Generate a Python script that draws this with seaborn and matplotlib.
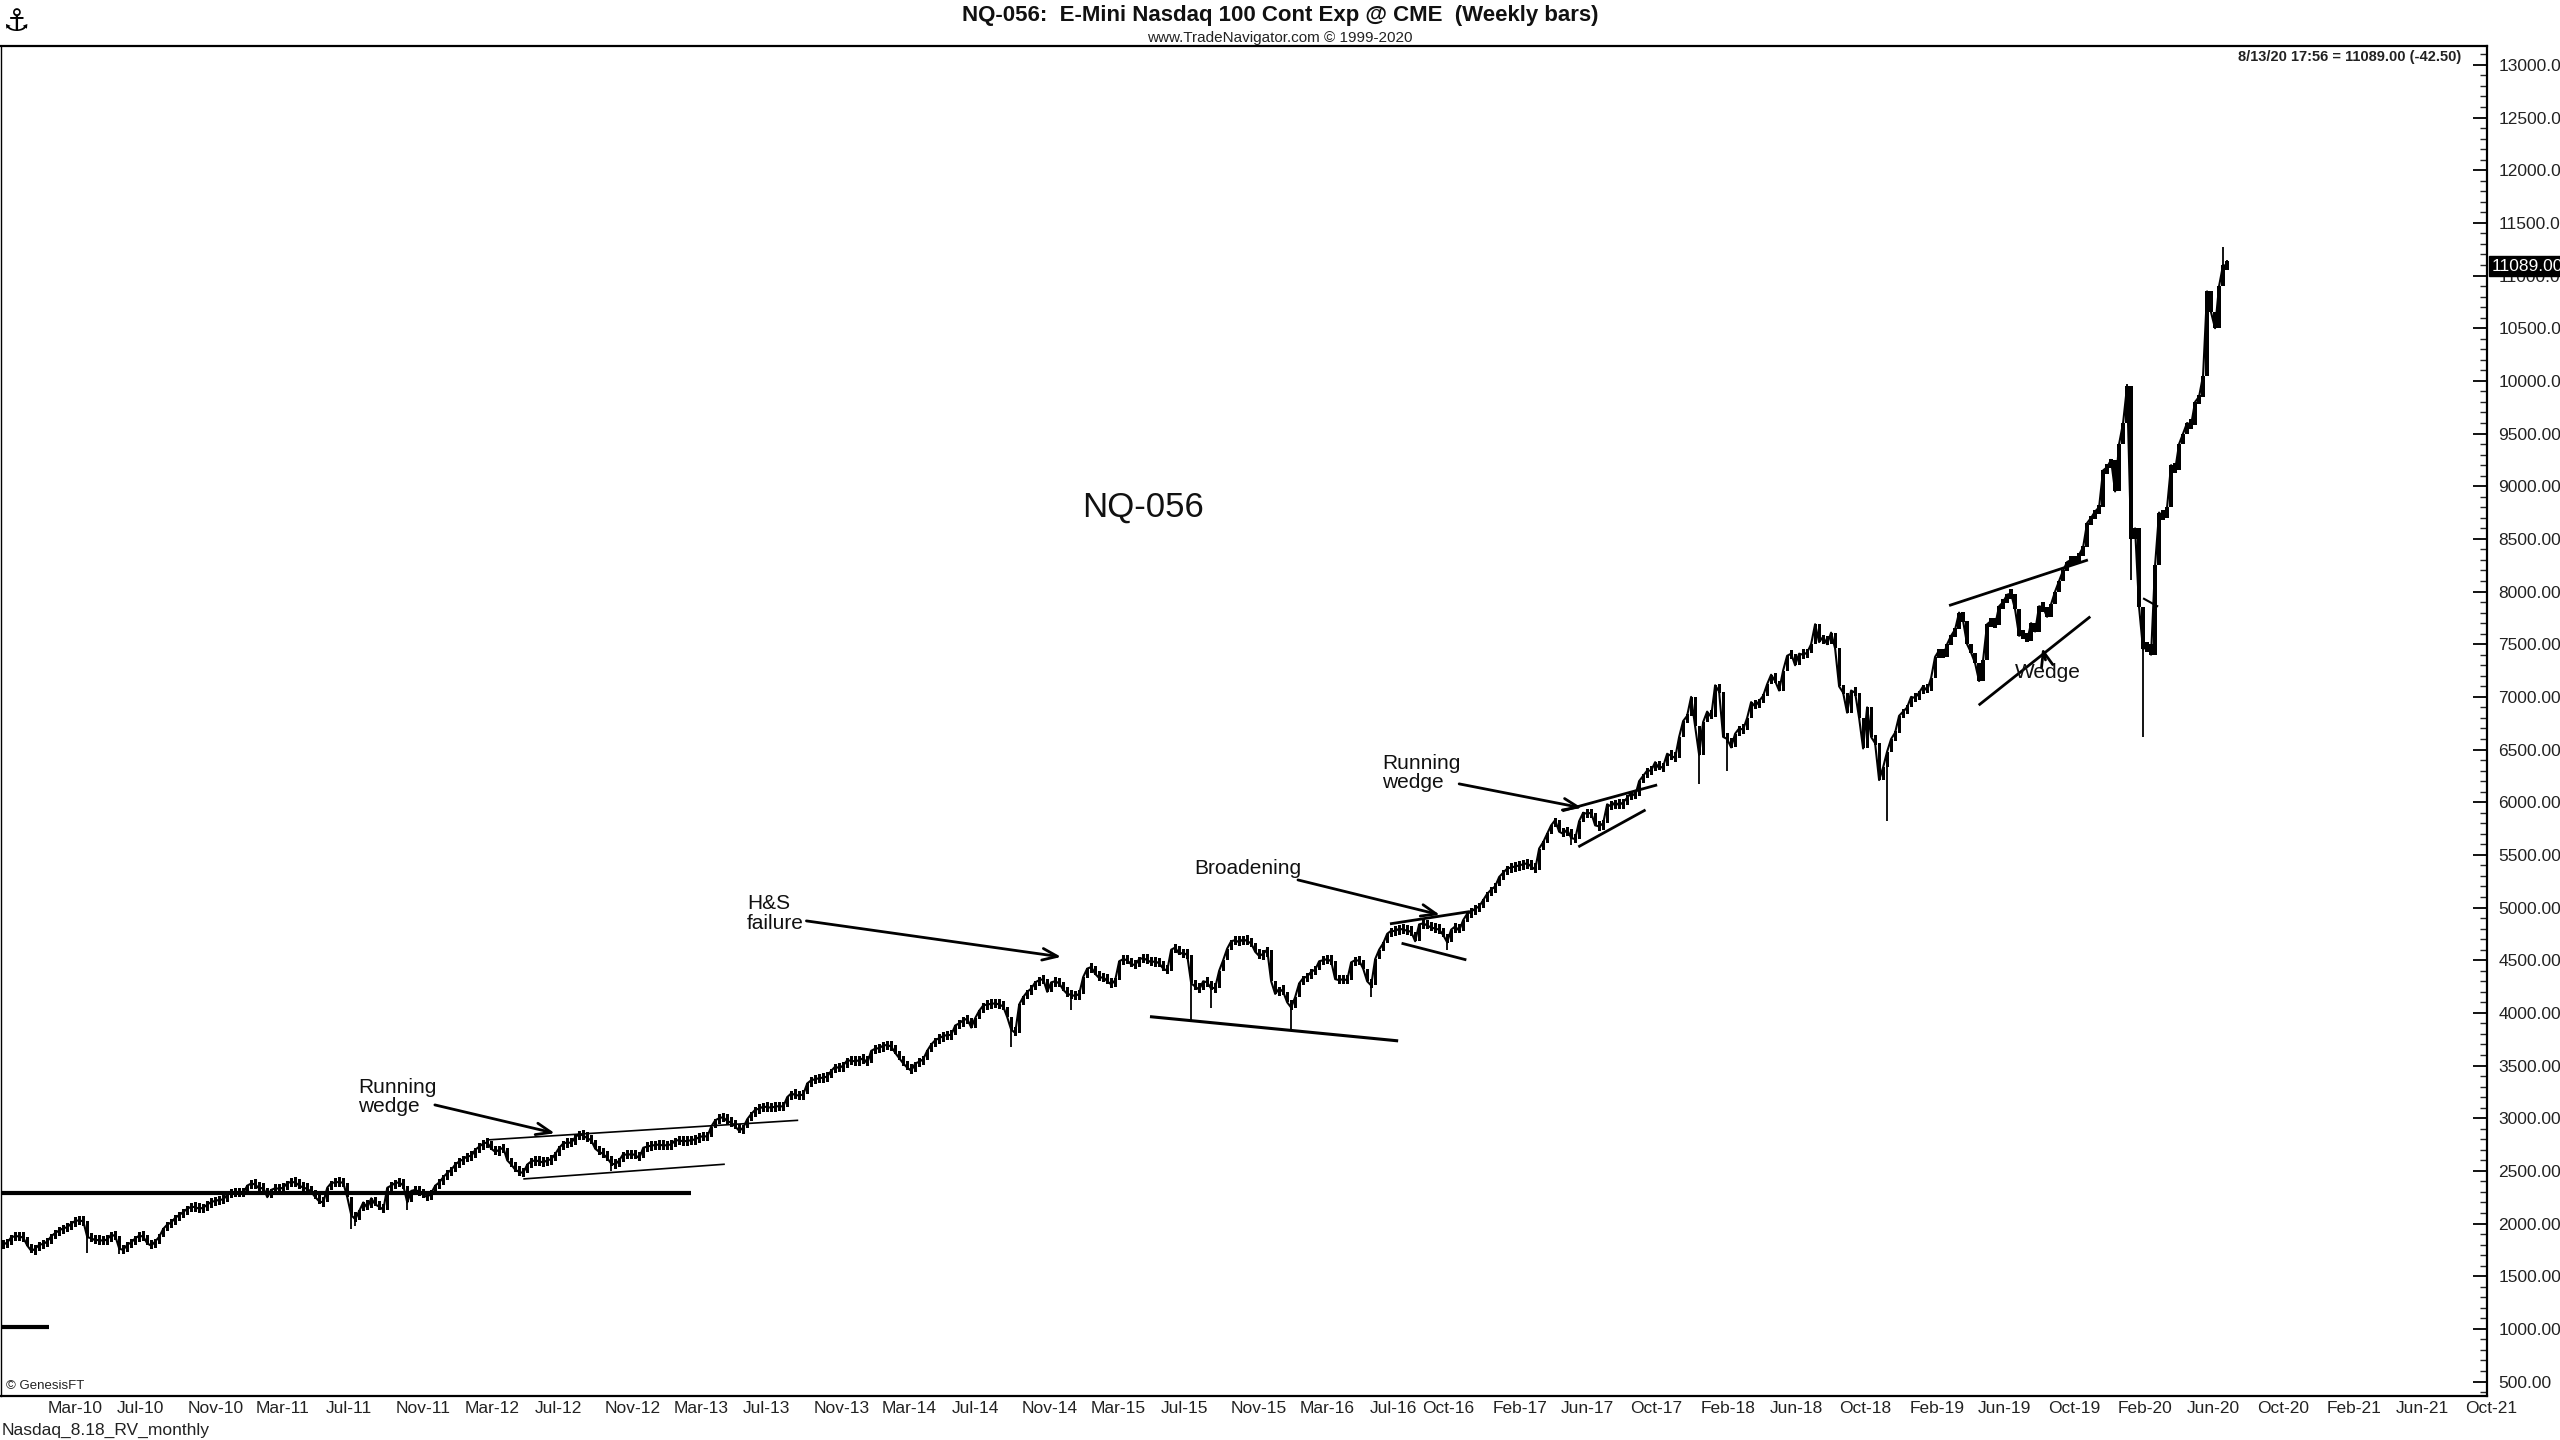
"""
NQ-056 weekly bars, 2010-2020, with chart pattern notes.
"""

import numpy as np
import pandas as pd
import matplotlib
matplotlib.use('Agg')  # no display
import matplotlib.pyplot as plt
import matplotlib.dates as mdates
from matplotlib.ticker import MultipleLocator, FuncFormatter
import seaborn as sns

# weekly closes, week of 14 Dec 2009 .. week of 10 Aug 2020
close_2010 = [
    1800, 1820, 1870, 1880, 1878, 1865, 1790, 1740, 1760, 1800,
    1805, 1830, 1880, 1910, 1935, 1955, 1965, 2000, 2025, 2030,
    2020, 1870, 1860, 1840, 1845, 1835, 1850, 1895, 1880, 1760,
    1750, 1800, 1820, 1860, 1885, 1875, 1810, 1790, 1830, 1875,
    1950, 1990, 2010, 2055, 2080, 2110, 2140, 2160, 2155, 2140,
    2150, 2180, 2205, 2215, 2225, 2228, 2275, 2295, 2290, 2300,
    2290, 2360, 2380, 2370, 2330,
]
close_2011 = [
    2340, 2250, 2320, 2335, 2330, 2340, 2385, 2395, 2390, 2360,
    2340, 2330, 2300, 2250, 2210, 2200, 2340, 2385, 2390, 2395,
    2385, 2250, 2080, 2040, 2120, 2200, 2150, 2240, 2180, 2160,
    2130, 2340, 2360, 2385, 2390, 2360, 2200, 2310, 2320, 2300,
    2270, 2250, 2290, 2360, 2390, 2440, 2480, 2510, 2560, 2590,
    2610, 2640, 2640, 2700, 2730, 2760, 2770, 2710, 2680, 2700,
    2720, 2600, 2560, 2510, 2490, 2480,
]
close_2012 = [
    2560, 2590, 2600, 2590, 2580, 2600, 2610, 2660, 2720, 2760,
    2770, 2765, 2820, 2850, 2835, 2810, 2790, 2710, 2680, 2660,
    2620, 2570, 2560, 2600, 2660, 2650, 2660, 2650, 2620, 2720,
    2730, 2740, 2745, 2750, 2740, 2745, 2750, 2790, 2790, 2780,
    2785, 2790, 2800, 2820, 2830, 2825, 2920, 2980, 3000, 3010,
    2970, 2960, 2920, 2880, 2910, 2990, 3040, 3080, 3090, 3110,
    3105, 3100, 3110, 3115, 3110,
]
close_2013 = [
    3200, 3235, 3220, 3215, 3225, 3330, 3360, 3370, 3380, 3385,
    3395, 3450, 3490, 3475, 3500, 3550, 3545, 3540, 3550, 3570,
    3520, 3640, 3660, 3665, 3690, 3695, 3680, 3620, 3570, 3520,
    3480, 3450, 3520, 3535, 3560, 3640, 3700, 3740, 3760, 3780,
    3790, 3790, 3880, 3900, 3930, 3945, 3860, 3950, 4020, 4070,
    4080, 4085, 4090, 4080, 4060, 3960, 3840, 3810, 4080, 4150,
    4200, 4230,
]
close_2015 = [
    4290, 4310, 4320, 4200, 4290, 4300, 4280, 4220, 4180, 4170,
    4160, 4180, 4340, 4420, 4435, 4370, 4330, 4340, 4300, 4270,
    4310, 4490, 4510, 4500, 4460, 4455, 4510, 4520, 4500, 4480,
    4490, 4470, 4420, 4400, 4600, 4620, 4560, 4570, 4550, 4280,
    4250, 4220, 4300, 4290, 4230, 4240, 4400, 4500, 4610, 4680,
    4690, 4670, 4700, 4680, 4660, 4580, 4540, 4560, 4600, 4300,
    4180, 4230, 4200, 4100, 4050,
]
close_2016 = [
    4150, 4280, 4330, 4345, 4390, 4410, 4490, 4500, 4510, 4490,
    4320, 4310, 4320, 4310, 4480, 4500, 4495, 4420, 4300, 4260,
    4510, 4600, 4660, 4750, 4780, 4775, 4800, 4790, 4780, 4770,
    4680, 4840, 4850, 4830, 4810, 4800, 4790, 4740, 4670, 4790,
    4820, 4780, 4880, 4940, 4960, 4990, 5010, 5070, 5130, 5170,
    5200, 5290, 5330, 5370, 5380, 5390, 5400, 5410, 5420, 5390,
    5360, 5560, 5620,
]
close_2017 = [
    5700, 5780, 5830, 5720, 5700, 5740, 5660, 5650, 5820, 5900,
    5890, 5900, 5780, 5770, 5800, 5980, 5960, 6000, 5970, 6000,
    6040, 6090, 6060, 6200, 6250, 6300, 6300, 6380, 6320, 6340,
    6460, 6440, 6420, 6620, 6770, 6820, 7000, 6720, 6450, 6760,
    6860, 6810, 7110, 7050, 6620, 6600, 6520, 6650, 6700, 6690,
    6800, 6950, 6910, 6960, 7010, 7120, 7210, 7150, 7060, 7250,
    7390, 7410, 7300, 7410, 7400, 7420, 7500, 7690, 7520, 7570,
    7500, 7610, 7460, 7100, 7040, 6850, 7060, 7040, 6800, 6510,
    6900, 6620, 6560, 6210, 6330, 6480, 6600, 6660, 6820, 6860,
    6900, 7000, 6990, 7040, 7100, 7060, 7180, 7380, 7440, 7380,
    7500, 7580, 7640, 7800, 7720, 7500, 7420, 7320, 7150, 7350,
    7690, 7720, 7680, 7860, 7900, 7970, 7980, 7830, 7580, 7600,
    7530, 7700, 7620, 7860, 7850, 7760,
]
close_2019 = [
    7880, 8000, 8100, 8200, 8280, 8300, 8290, 8350, 8420, 8650,
    8700, 8760, 8800, 9150, 9180, 9250, 8950, 9400, 9600, 9950,
    8500, 8600, 7850, 7450, 7500, 7400, 8250, 8750, 8700, 8800,
    9200, 9150, 9400, 9500, 9600, 9580, 9800, 9850, 10050, 10850,
    10650, 10500, 10900, 11100, 11089,
]
last_week = '2020-08-10'

# weeks whose wick sticks out past the body (bar number, price)
spike_low_idx = [21, 29, 87, 88, 101, 152, 252, 267, 297, 302, 322, 342, 361, 392, 424, 431, 471, 532, 535]
spike_low_val = [1720, 1715, 1950, 1980, 2130, 2500, 3680, 4030, 3920, 4050, 3840, 4155, 4600, 5590, 6170, 6300, 5820, 8110, 6620]
spike_high_idx = [531, 555, 556]
spike_high_val = [9970, 11275, 11150]

month_ticks = ['2010-03-01', '2010-07-01', '2010-11-01', '2011-03-01', '2011-07-01', '2011-11-01',
               '2012-03-01', '2012-07-01', '2012-11-01', '2013-03-01', '2013-07-01', '2013-11-01',
               '2014-03-01', '2014-07-01', '2014-11-01', '2015-03-01', '2015-07-01', '2015-11-01',
               '2016-03-01', '2016-07-01', '2016-10-01', '2017-02-01', '2017-06-01', '2017-10-01',
               '2018-02-01', '2018-06-01', '2018-10-01', '2019-02-01', '2019-06-01', '2019-10-01',
               '2020-02-01', '2020-06-01', '2020-10-01', '2021-02-01', '2021-06-01', '2021-10-01']
month_labels = ['Mar-10', 'Jul-10', 'Nov-10', 'Mar-11', 'Jul-11', 'Nov-11',
                'Mar-12', 'Jul-12', 'Nov-12', 'Mar-13', 'Jul-13', 'Nov-13',
                'Mar-14', 'Jul-14', 'Nov-14', 'Mar-15', 'Jul-15', 'Nov-15',
                'Mar-16', 'Jul-16', 'Oct-16', 'Feb-17', 'Jun-17', 'Oct-17',
                'Feb-18', 'Jun-18', 'Oct-18', 'Feb-19', 'Jun-19', 'Oct-19',
                'Feb-20', 'Jun-20', 'Oct-20', 'Feb-21', 'Jun-21', 'Oct-21']

sns.set_theme(style='white')
NARROW = ['Liberation Sans Narrow', 'Liberation Sans', 'DejaVu Sans']
plt.rcParams['font.family'] = ['Liberation Sans', 'DejaVu Sans']

close = close_2010 + close_2011 + close_2012 + close_2013 + close_2015 + close_2016 + close_2017 + close_2019
dates = pd.date_range(end=last_week, periods=len(close), freq='W-MON')
df = pd.DataFrame({'date': dates, 'close': close})
df['open'] = df['close'].shift(1).fillna(df['close'])
df['high'] = df[['open', 'close']].max(axis=1)
df['low'] = df[['open', 'close']].min(axis=1)
for i, v in zip(spike_low_idx, spike_low_val):
    df.loc[i, 'low'] = min(df.loc[i, 'low'], v)
for i, v in zip(spike_high_idx, spike_high_val):
    df.loc[i, 'high'] = max(df.loc[i, 'high'], v)

x = mdates.date2num(df['date'])
mid = (df['open'] + df['close']) / 2
height = np.maximum((df['close'] - df['open']).abs(), 90)
bottom = mid - height / 2


def wk(i):
    """Position of (fractional) bar number i on the date axis."""
    return x[0] + 7 * i


fig = plt.figure(figsize=(25.6, 14.4), dpi=100)
ax = fig.add_axes([0.0004, 0.0306, 0.9711, 0.9375])

ax.vlines(x, df['low'], df['high'], color='black', linewidth=1.3)
ax.bar(x, height, bottom=bottom, width=5.6, color='black', linewidth=0)
sns.lineplot(x=x, y=df['close'], ax=ax, color='black', linewidth=1.5, estimator=None)

x_left = x[0] - 4
ax.set_xlim(x_left, mdates.date2num(pd.Timestamp('2021-11-08')))
ax.set_ylim(363, 13180)

# support lines
ax.hlines(2293, x_left, wk(172), color='black', linewidth=3)
ax.hlines(1015, x_left, wk(11.5), color='black', linewidth=3)

# pattern lines: (bar from, price, bar to, price, width)
trend_lines = [
    (120.75, 2793, 198.75, 2980, 1.2),
    (130.0, 2423, 180.4, 2563, 1.2),
    (286.7, 3964, 348.75, 3734, 2.2),
    (346.7, 4845, 366.7, 4962, 2.0),
    (349.6, 4661, 365.8, 4503, 2.0),
    (389.8, 5918, 413.5, 6164, 2.0),
    (393.8, 5576, 410.6, 5927, 2.0),
    (486.5, 7867, 521.2, 8300, 2.0),
    (493.9, 6921, 521.8, 7762, 2.0),
    (535.0, 7936, 538.75, 7857, 1.5),
]
for a, va, b, vb, lw in trend_lines:
    ax.plot([wk(a), wk(b)], [va, vb], color='black', linewidth=lw, solid_capstyle='butt')

arrow_kw = dict(arrowstyle='->,head_length=0.9,head_width=0.35', color='black', lw=2.0,
                shrinkA=0, shrinkB=0)
arrows = [
    (107.9, 3126, 137.9, 2857),
    (200.8, 4873, 264.5, 4531),
    (323.7, 5262, 359.2, 4930),
    (364.0, 6174, 394.7, 5946),
    (510.6, 7351, 509.8, 7465),
]
for a, va, b, vb in arrows:
    ax.annotate('', xy=(wk(b), vb), xytext=(wk(a), va), arrowprops=arrow_kw)

notes = [
    (88.8, 3202, 'Running\nwedge'),
    (186.0, 4944, 'H&S\nfailure'),
    (297.8, 5371, 'Broadening'),
    (344.8, 6278, 'Running\nwedge'),
    (503.0, 7232, 'Wedge'),
]
for a, v, s in notes:
    ax.text(wk(a), v, s, ha='left', va='center', fontsize=15, color='#111111', linespacing=1.05)

ax.text(wk(285), 8800, 'NQ-056', ha='center', va='center', fontsize=25, color='#111111')

# axes styling
for side in ['left', 'right', 'top', 'bottom']:
    ax.spines[side].set_visible(True)
    ax.spines[side].set_color('black')
    ax.spines[side].set_linewidth(1.6)
ax.spines['left'].set_linewidth(1.0)

ax.yaxis.tick_right()
ax.yaxis.set_major_locator(MultipleLocator(500))
ax.yaxis.set_minor_locator(MultipleLocator(100))
ax.yaxis.set_major_formatter(FuncFormatter(lambda v, p: f'{v:.2f}'[:7]))
ax.tick_params(axis='y', which='major', direction='in', length=10, width=1.3,
               labelsize=12.5, pad=8, colors='black', labelcolor='#222222',
               left=False, right=True)
ax.tick_params(axis='y', which='minor', direction='in', length=5, width=1.0,
               left=False, right=True)

ax.set_xticks(mdates.date2num(pd.to_datetime(month_ticks)))
ax.set_xticklabels(month_labels, fontsize=12.5, family=NARROW, color='#222222')
for lab in ax.get_xticklabels():
    lab.set_horizontalalignment('left')
ax.tick_params(axis='x', length=0, pad=4)
ax.set_xlabel('')
ax.set_ylabel('')

# last price box
ax.text(1.002, 11089, '11089.00', transform=ax.get_yaxis_transform(), ha='left', va='center',
        fontsize=12.5, color='white', bbox=dict(boxstyle='square,pad=0.15', fc='black', ec='black'))

ax.text(0.9895, 0.9915, '8/13/20 17:56 = 11089.00 (-42.50)', transform=ax.transAxes,
        ha='right', va='center', fontsize=10.5, fontweight='bold', color='#222222')
ax.text(0.002, 0.007, '\u00a9 GenesisFT', transform=ax.transAxes, ha='left', va='center',
        fontsize=9.5, family=NARROW, color='#222222')

fig.text(0.5, 1 - 15 / 1440, 'NQ-056:  E-Mini Nasdaq 100 Cont Exp @ CME  (Weekly bars)',
         ha='center', va='center', fontsize=16, fontweight='bold', family=NARROW, color='#111111')
fig.text(0.5, 1 - 38 / 1440, 'www.TradeNavigator.com \u00a9 1999-2020',
         ha='center', va='center', fontsize=11, family=NARROW, color='#222222')
fig.text(0.0008, 1 - 1430 / 1440, 'Nasdaq_8.18_RV_monthly', ha='left', va='center',
         fontsize=12.5, family=NARROW, color='#222222')
fig.text(0.006, 1 - 22 / 1440, '\u2693', ha='center', va='center', fontsize=22,
         family=['DejaVu Sans'], color='black')

fig.savefig('out.png', dpi=100)
plt.close(fig)
